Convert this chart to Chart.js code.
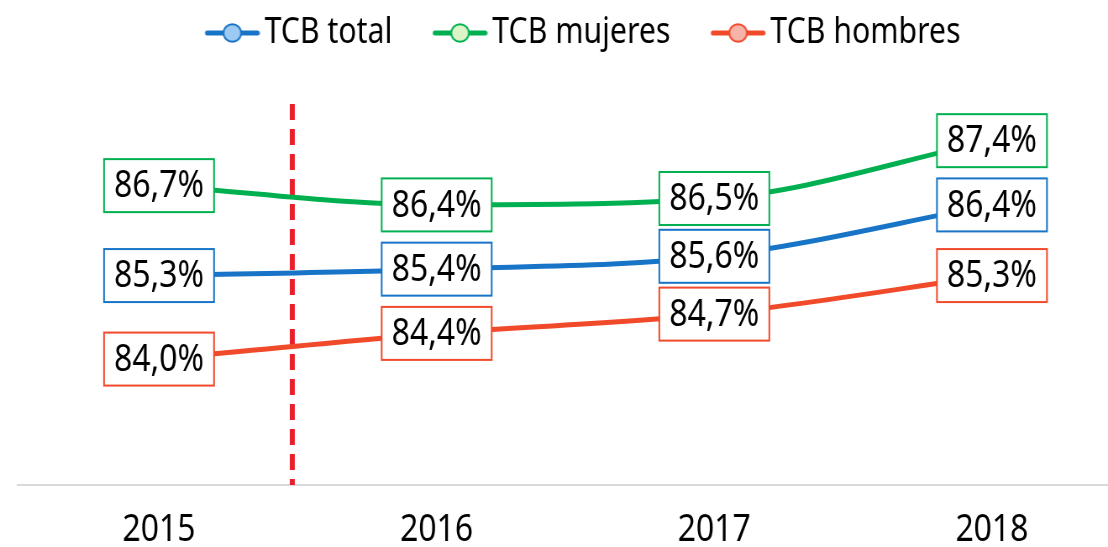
<!DOCTYPE html>
<html>
<head>
<meta charset="utf-8">
<script src="https://cdn.jsdelivr.net/npm/chart.js@4.4.0/dist/chart.umd.min.js"></script>
<style>
  html, body { margin: 0; padding: 0; background: #fff; overflow: hidden; }
  /* canvas drawn wider, then squeezed horizontally to get a condensed look */
  #tcbChart { display: block; width: 1108px !important; height: 547px !important; }
</style>
</head>
<body>
<canvas id="tcbChart" width="1319" height="547" style="width:1108px;height:547px"></canvas>
<script>
// data
const years = ["2015", "2016", "2017", "2018"];
const tcbTotal = [85.3, 85.4, 85.6, 86.4];
const tcbMujeres = [86.7, 86.4, 86.5, 87.4];
const tcbHombres = [84.0, 84.4, 84.7, 85.3];
const seriesNames = ["TCB total", "TCB mujeres", "TCB hombres"];

const SQ = 0.84; // horizontal squeeze of the canvas
const FONT = "'Noto Sans', 'Open Sans', sans-serif";
const FSIZE = 38;
const lineColors = ["#1874c6", "#00b050", "#f04a2a"];
const markerFill = ["#9ccaf2", "#dcf5c8", "#f6b4a9"];

function toPoints(vals) {
  return vals.map((v, i) => ({ x: i, y: v }));
}

// legend marker: short line with a circle, on the right side of the image
function legendIcon(color, fill) {
  const c = document.createElement("canvas");
  c.width = 113; c.height = 24;
  const g = c.getContext("2d");
  g.strokeStyle = color;
  g.lineWidth = 5;
  g.lineCap = "round";
  g.beginPath(); g.moveTo(50, 12); g.lineTo(110, 12); g.stroke();
  g.beginPath(); g.ellipse(80, 12, 8.8 / SQ, 8.8, 0, 0, Math.PI * 2);
  g.fillStyle = fill; g.fill();
  g.lineWidth = 2; g.stroke();
  return c;
}
const icons = lineColors.map((c, i) => legendIcon(c, markerFill[i]));

// value boxes drawn on each point
const valueBoxes = {
  id: "valueBoxes",
  afterDatasetsDraw(chart) {
    const ctx = chart.ctx;
    ctx.save();
    ctx.font = FSIZE + "px " + FONT;
    ctx.textAlign = "center";
    ctx.textBaseline = "middle";
    chart.data.datasets.forEach((ds, di) => {
      const meta = chart.getDatasetMeta(di);
      meta.data.forEach((pt, i) => {
        const txt = ds.data[i].y.toFixed(1).replace(".", ",") + "%";
        const w = 110 / SQ, h = 53;
        ctx.fillStyle = "#fff";
        ctx.fillRect(pt.x - w / 2, pt.y - h / 2, w, h);
        ctx.strokeStyle = lineColors[di];
        ctx.lineWidth = 2;
        ctx.strokeRect(pt.x - w / 2, pt.y - h / 2, w, h);
        ctx.fillStyle = "#000";
        ctx.fillText(txt, pt.x, pt.y + 1);
      });
    });
    ctx.restore();
  }
};

// red dashed divider between 2015 and 2016
const divider = {
  id: "divider",
  beforeDatasetsDraw(chart) {
    const { ctx, chartArea, scales } = chart;
    const x = scales.x.getPixelForValue(0.48);
    ctx.save();
    ctx.strokeStyle = "#e8202e";
    ctx.lineWidth = 5 / SQ;
    ctx.setLineDash([16, 9]);
    ctx.beginPath();
    ctx.moveTo(x, 104);
    ctx.lineTo(x, chartArea.bottom);
    ctx.stroke();
    ctx.restore();
  }
};

const ctx = document.getElementById("tcbChart").getContext("2d");
const chart = new Chart(ctx, {
  type: "line",
  data: {
    datasets: [
      { label: seriesNames[0], data: toPoints(tcbTotal) },
      { label: seriesNames[1], data: toPoints(tcbMujeres) },
      { label: seriesNames[2], data: toPoints(tcbHombres) },
    ].map((d, i) => Object.assign(d, {
      borderColor: lineColors[i],
      backgroundColor: lineColors[i],
      borderWidth: 5,
      pointRadius: 0,
      tension: 0.4,
      cubicInterpolationMode: "monotone",
    })),
  },
  options: {
    responsive: false,
    devicePixelRatio: 1,
    animation: false,
    layout: { padding: { left: 18 / SQ, right: -12, top: 2, bottom: -28 } },
    scales: {
      x: {
        type: "linear",
        min: -0.508,
        max: 3.418,
        afterBuildTicks: (axis) => { axis.ticks = [0, 1, 2, 3].map((v) => ({ value: v })); },
        grid: { display: false, drawTicks: false },
        border: { display: true, color: "#d9d9d9", width: 2 },
        ticks: {
          callback: (v) => years[v] || "",
          color: "#000",
          font: { size: FSIZE, family: FONT, lineHeight: 1 },
          padding: 26,
          maxRotation: 0,
        },
      },
      y: {
        display: false,
        min: 82.04,
        max: 88.64,
      },
    },
    plugins: {
      legend: {
        position: "top",
        labels: {
          color: "#000",
          font: { size: 36, family: FONT },
          usePointStyle: true,
          pointStyleWidth: 88,
          boxHeight: 22,
          padding: 13,
          generateLabels: (ch) => ch.data.datasets.map((ds, i) => ({
            text: ds.label,
            pointStyle: icons[i],
            fillStyle: lineColors[i],
            strokeStyle: lineColors[i],
            lineWidth: 0,
            datasetIndex: i,
            hidden: false,
          })),
        },
      },
      tooltip: { enabled: false },
    },
  },
  plugins: [divider, valueBoxes],
});
</script>
</body>
</html>
